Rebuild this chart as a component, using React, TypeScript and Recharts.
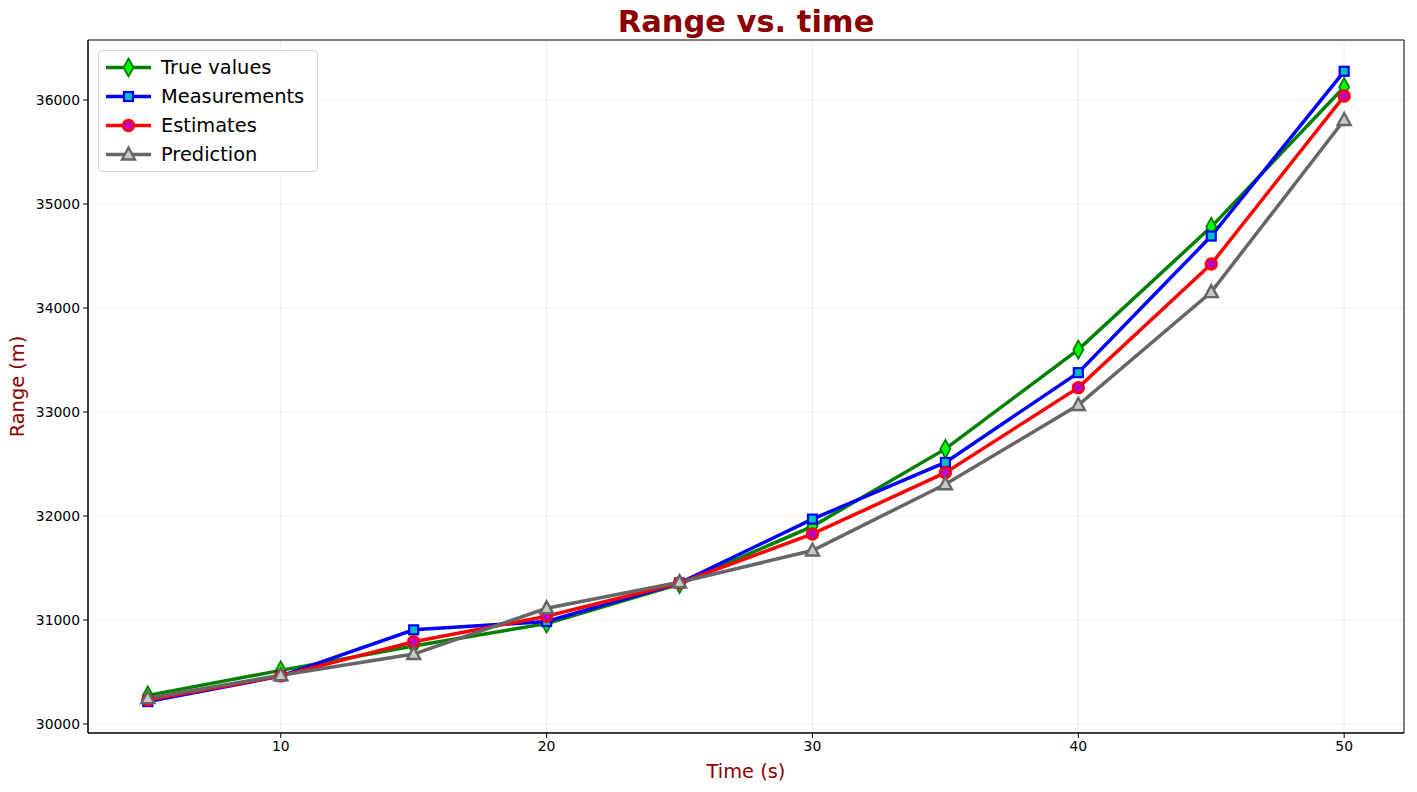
import React from 'react';
import { LineChart, Line, XAxis, YAxis, CartesianGrid, ReferenceArea } from 'recharts';

const times = [5, 10, 15, 20, 25, 30, 35, 40, 45, 50];
const trueValues = [30275, 30515, 30750, 30965, 31345, 31900, 32645, 33600, 34780, 36125];
const measurements = [30215, 30460, 30905, 30985, 31355, 31970, 32515, 33378, 34692, 36276];
const estimates = [30230, 30462, 30790, 31035, 31355, 31827, 32416, 33234, 34423, 36038];
const predictions = [30248, 30468, 30672, 31112, 31362, 31668, 32305, 33067, 34153, 35808];
const xTicks = [10, 20, 30, 40, 50];
const yTicks = [30000, 31000, 32000, 33000, 34000, 35000, 36000];
const xDomain = [2.75, 52.25];
const yDomain = [29913, 36577];

const data = times.map((t, i) => ({
  t,
  trueV: trueValues[i],
  meas: measurements[i],
  est: estimates[i],
  pred: predictions[i],
}));

const FONT = '"DejaVu Sans", sans-serif';
const DARKRED = '#8b0000';
const GRAY = '#666666';

type MarkerKind = 'diamond' | 'square' | 'circle' | 'triangle';

function markerShape(kind: MarkerKind, cx: number, cy: number, key?: any) {
  if (kind === 'diamond') {
    return (
      <path key={key} d={`M${cx},${cy - 9} L${cx + 5},${cy} L${cx},${cy + 9} L${cx - 5},${cy} Z`}
        fill="#00ff00" stroke="#008000" strokeWidth={1.8} />
    );
  }
  if (kind === 'square') {
    return <rect key={key} x={cx - 4.5} y={cy - 4.5} width={9} height={9} fill="#00bfbf" stroke="#0000ff" strokeWidth={2.2} />;
  }
  if (kind === 'circle') {
    return <circle key={key} cx={cx} cy={cy} r={5.5} fill="#bf00bf" stroke="#ff0000" strokeWidth={2.4} />;
  }
  return (
    <path key={key} d={`M${cx},${cy - 7} L${cx + 6.5},${cy + 5} L${cx - 6.5},${cy + 5} Z`}
      fill="#c8c8c8" stroke={GRAY} strokeWidth={2.4} strokeLinejoin="miter" />
  );
}

const makeDot = (kind: MarkerKind) => (props: any) => {
  const { cx, cy, index } = props;
  if (cx == null || cy == null) return <g key={`e-${index}`} />;
  return markerShape(kind, cx, cy, `${kind}-${index}`);
};

const legendItems: { label: string; color: string; kind: MarkerKind }[] = [
  { label: 'True values', color: '#008000', kind: 'diamond' },
  { label: 'Measurements', color: '#0000ff', kind: 'square' },
  { label: 'Estimates', color: '#ff0000', kind: 'circle' },
  { label: 'Prediction', color: GRAY, kind: 'triangle' },
];

const LegendBox = () => (
  <div style={{
    position: 'absolute', left: 98, top: 50,
    width: 220, height: 122, boxSizing: 'border-box', background: 'rgba(255,255,255,0.8)',
    border: '1px solid #d6d6d6', borderRadius: 4, fontFamily: FONT, fontSize: 19.4, color: '#000',
  }}>
    {legendItems.map((it, i) => (
      <div key={it.label} style={{ position: 'absolute', left: 0, top: 2 + i * 29, height: 29, display: 'flex', alignItems: 'center' }}>
        <svg width={60} height={29} style={{ display: 'block' }}>
          <line x1={7} y1={14.5} x2={52} y2={14.5} stroke={it.color} strokeWidth={3.5} />
          {markerShape(it.kind, 29.5, 14.5)}
        </svg>
        <span style={{ marginLeft: 2, lineHeight: '29px', whiteSpace: 'nowrap' }}>{it.label}</span>
      </div>
    ))}
  </div>
);

export default function App() {
  return (
    <div style={{ position: 'absolute', left: 0, top: 0, width: 1417, height: 792, background: '#fff' }}>
      <LineChart width={1417} height={792} data={data} margin={{ top: 40, right: 13, bottom: 0, left: 0 }}>
        <CartesianGrid stroke="#b0b0b0" strokeOpacity={0.3} strokeWidth={0.8} horizontalValues={yTicks} verticalValues={xTicks} />
        <XAxis dataKey="t" type="number" domain={xDomain} ticks={xTicks} allowDataOverflow height={59}
          tickSize={5} stroke="#000" tick={{ fill: '#000', fontSize: 13.9, fontFamily: FONT }} tickMargin={3}
          label={{ value: 'Time (s)', position: 'insideBottom', offset: 14, fill: DARKRED, fontSize: 19.4, fontFamily: FONT }} />
        <YAxis type="number" domain={yDomain} ticks={yTicks} allowDataOverflow width={88}
          tickSize={5} stroke="#000" tick={{ fill: '#000', fontSize: 13.9, fontFamily: FONT }} tickMargin={3}
          label={{ value: 'Range (m)', angle: -90, position: 'insideLeft', offset: 17, fill: DARKRED, fontSize: 19.4, fontFamily: FONT, style: { textAnchor: 'middle' } }} />
        <ReferenceArea x1={xDomain[0]} x2={xDomain[1]} y1={yDomain[0]} y2={yDomain[1]} fill="none" stroke="#000" strokeWidth={1} ifOverflow="visible" />
        <Line dataKey="trueV" name="True values" stroke="#008000" strokeWidth={3.5} dot={makeDot('diamond')} isAnimationActive={false} activeDot={false} />
        <Line dataKey="meas" name="Measurements" stroke="#0000ff" strokeWidth={3.5} dot={makeDot('square')} isAnimationActive={false} activeDot={false} />
        <Line dataKey="est" name="Estimates" stroke="#ff0000" strokeWidth={3.5} dot={makeDot('circle')} isAnimationActive={false} activeDot={false} />
        <Line dataKey="pred" name="Prediction" stroke={GRAY} strokeWidth={3.5} dot={makeDot('triangle')} isAnimationActive={false} activeDot={false} />
      </LineChart>
      <div style={{
        position: 'absolute', left: 88, width: 1316, top: 2, textAlign: 'center', fontFamily: FONT,
        fontWeight: 'bold', fontSize: 30.5, color: DARKRED, lineHeight: '40px',
      }}>Range vs. time</div>
      <LegendBox />
    </div>
  );
}
